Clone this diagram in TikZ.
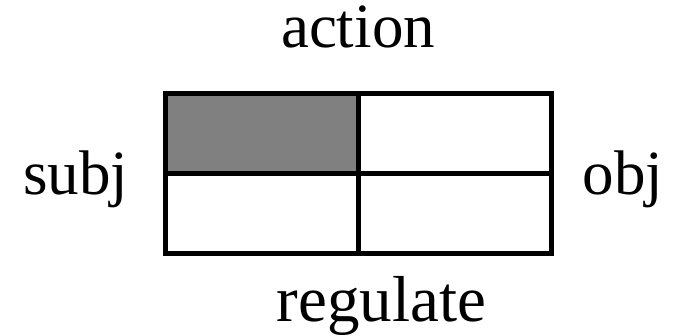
\documentclass[tikz,border=0pt]{standalone}
\usepackage{fontspec}
\setmainfont{Liberation Serif}
\begin{document}
\begin{tikzpicture}[x=0.5pt,y=-0.5pt,
  lbl/.style={inner sep=0pt,anchor=base,font=\fontsize{31.5}{36}\selectfont},
  cell/.style={draw=black,line width=2.5pt,minimum width=96.5pt,minimum height=40pt,inner sep=0pt,anchor=north west}]
\useasboundingbox (0,0) rectangle (677,336);
\node[cell,fill={rgb,255:red,128;green,128;blue,128}] (c11) at (163.5,91) {};
\node[cell] (c12) at (356.5,91) {};
\node[cell] (c21) at (163.5,171) {};
\node[cell] (c22) at (356.5,171) {};
\node[lbl] (action) at (358,48) {action};
\node[lbl] (subj) at (76,195) {subj};
\node[lbl] (obj) at (623,195) {obj};
\node[lbl,font=\fontsize{32.5}{36}\selectfont] (regulate) at (381.5,322) {regulate};
\end{tikzpicture}
\end{document}
